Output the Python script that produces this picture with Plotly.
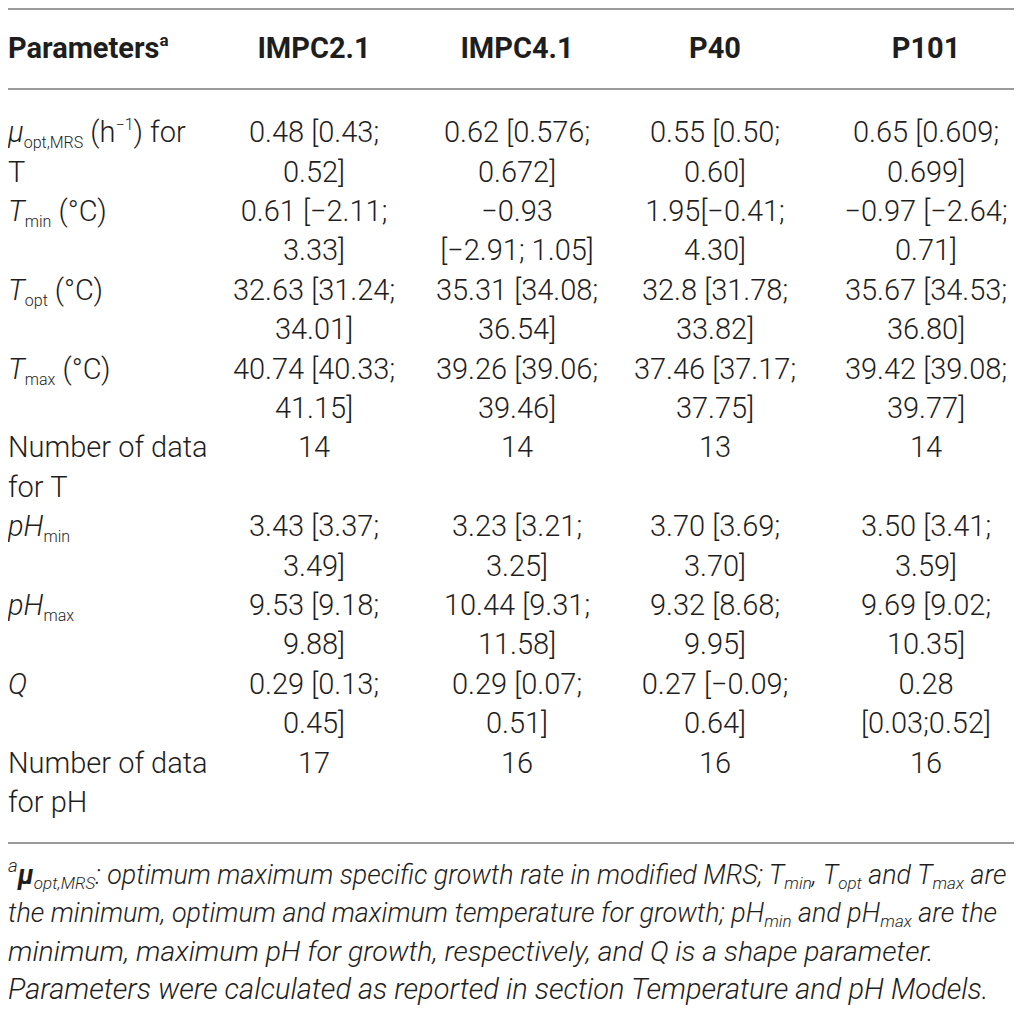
import plotly.graph_objects as go


def sub(s, px=16):
    return '<sub><span style="font-size:%dpx">%s</span></sub>' % (px, s)


def sup(s, px=16):
    return '<sup><span style="font-size:%dpx">%s</span></sup>' % (px, s)


# column headers and row labels
columns = ['IMPC2.1', 'IMPC4.1', 'P40', 'P101']
param_labels = [
    '<i>μ</i>' + sub('opt,MRS') + ' (h' + sup('−1') + ') for<br>T',
    '<i>T</i>' + sub('min') + ' (°C)',
    '<i>T</i>' + sub('opt') + ' (°C)',
    '<i>T</i>' + sub('max') + ' (°C)',
    'Number of data<br>for T',
    '<i>pH</i>' + sub('min'),
    '<i>pH</i>' + sub('max'),
    '<i>Q</i>',
    'Number of data<br>for pH',
]

# cell values, <br> where the original cell wraps
impc21 = ['0.48 [0.43;<br>0.52]', '0.61 [−2.11;<br>3.33]', '32.63 [31.24;<br>34.01]',
          '40.74 [40.33;<br>41.15]', '14', '3.43 [3.37;<br>3.49]', '9.53 [9.18;<br>9.88]',
          '0.29 [0.13;<br>0.45]', '17']
impc41 = ['0.62 [0.576;<br>0.672]', '−0.93<br>[−2.91; 1.05]', '35.31 [34.08;<br>36.54]',
          '39.26 [39.06;<br>39.46]', '14', '3.23 [3.21;<br>3.25]', '10.44 [9.31;<br>11.58]',
          '0.29 [0.07;<br>0.51]', '16']
p40 = ['0.55 [0.50;<br>0.60]', '1.95[−0.41;<br>4.30]', '32.8 [31.78;<br>33.82]',
       '37.46 [37.17;<br>37.75]', '13', '3.70 [3.69;<br>3.70]', '9.32 [8.68;<br>9.95]',
       '0.27 [−0.09;<br>0.64]', '16']
p101 = ['0.65 [0.609;<br>0.699]', '−0.97 [−2.64;<br>0.71]', '35.67 [34.53;<br>36.80]',
        '39.42 [39.08;<br>39.77]', '14', '3.50 [3.41;<br>3.59]', '9.69 [9.02;<br>10.35]',
        '0.28<br>[0.03;0.52]', '16']

footnote = [
    '<sup>a</sup><b>μ</b>' + sub('opt,MRS', 17) + ': optimum maximum specific growth rate in modified MRS; '
    'T' + sub('min', 17) + ', T' + sub('opt', 17) + ' and T' + sub('max', 17) + ' are',
    'the minimum, optimum and maximum temperature for growth; pH' + sub('min', 17)
    + ' and pH' + sub('max', 17) + ' are the',
    'minimum, maximum pH for growth, respectively, and Q is a shape parameter.',
    'Parameters were calculated as reported in section Temperature and pH Models.',
]
foot_sizes = [26.8, 26.9, 28.4, 29]

# the page puts the plot 8px in from the top-left, so the axes are set up
# to read in page pixels: x 8..1022, y 8..1011
W, H = 1022, 1011
OFF = 8
col_x = [314, 517, 715, 926]
left_x = OFF
first_line = 135
pitch = 39.4
header_y = 51
rules_y = [9, 89, 843]
foot_y = [877, 915, 954, 992]

BODY = 'Roboto'
TXT = '#1e1e1e'
fs = 29

# rows have the same line count in all columns
row_lines = [max(len(c.split('<br>')) for c in [param_labels[i], impc21[i], impc41[i], p40[i], p101[i]])
             for i in range(len(param_labels))]


def place(cells):
    # split cells into single lines stacked on the row grid
    txt, ys = [], []
    line = 0
    for c, n in zip(cells, row_lines):
        for k, p in enumerate(c.split('<br>')):
            txt.append(p)
            ys.append(first_line + pitch * (line + k))
        line += n
    return txt, ys


fig = go.Figure()

lbl_txt, lbl_y = place(param_labels)
fig.add_trace(go.Scatter(
    x=[left_x] * len(lbl_txt), y=lbl_y, text=lbl_txt, mode='text',
    textposition='middle right', cliponaxis=False,
    textfont=dict(family=BODY, size=fs, color=TXT, weight=300),
    hoverinfo='skip'))

for cx, cells in zip(col_x, [impc21, impc41, p40, p101]):
    t, ys = place(cells)
    fig.add_trace(go.Scatter(
        x=[cx] * len(t), y=ys, text=t, mode='text',
        textposition='middle center', cliponaxis=False,
        textfont=dict(family=BODY, size=fs, color=TXT, weight=300),
        hoverinfo='skip'))

# header row
fig.add_trace(go.Scatter(
    x=[left_x], y=[header_y], text=['<b>Parameters' + sup('a', 17) + '</b>'], mode='text',
    textposition='middle right', cliponaxis=False,
    textfont=dict(family=BODY, size=fs, color=TXT),
    hoverinfo='skip'))
fig.add_trace(go.Scatter(
    x=col_x, y=[header_y] * len(columns), text=['<b>%s</b>' % c for c in columns], mode='text',
    textposition='middle center', cliponaxis=False,
    textfont=dict(family=BODY, size=fs, color=TXT),
    hoverinfo='skip'))

# footnote
fig.add_trace(go.Scatter(
    x=[left_x] * len(footnote), y=foot_y, text=footnote, mode='text',
    textposition='middle right', cliponaxis=False,
    textfont=dict(family=BODY, size=foot_sizes, color=TXT, style='italic', weight=300),
    hoverinfo='skip'))

for ry in rules_y:
    fig.add_shape(type='line', x0=OFF, x1=W, y0=ry, y1=ry, xref='x', yref='y',
                  line=dict(color='#9b9b9b', width=2))

fig.update_layout(
    width=W - OFF, height=H - OFF,
    margin=dict(l=0, r=0, t=0, b=0),
    paper_bgcolor='white', plot_bgcolor='white',
    showlegend=False,
    xaxis=dict(range=[OFF, W], visible=False, fixedrange=True),
    yaxis=dict(range=[H, OFF], visible=False, fixedrange=True),
)

fig.write_html('out.html')
